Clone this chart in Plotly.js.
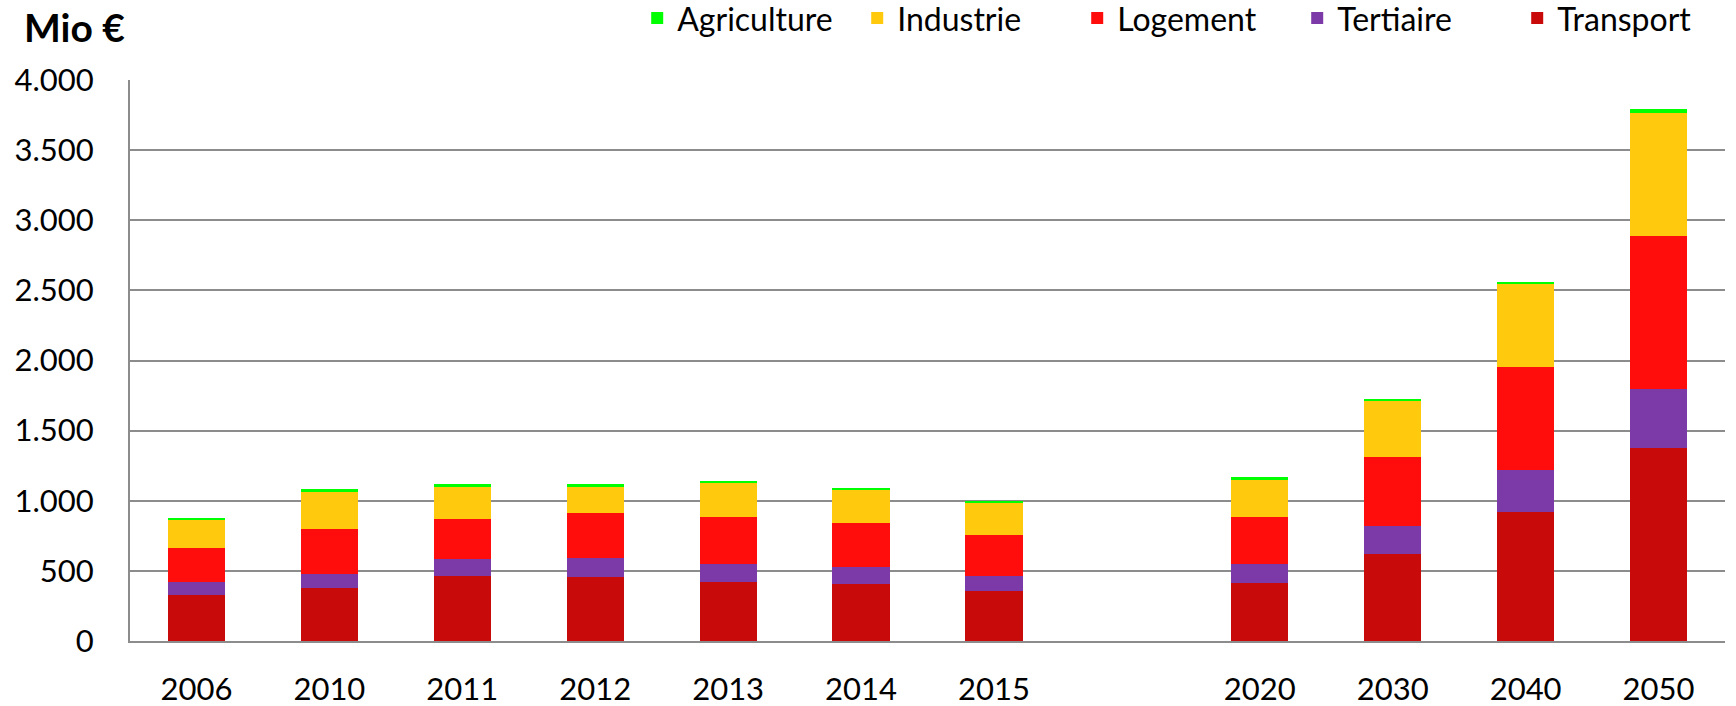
<!DOCTYPE html>
<html>
<head>
<meta charset="utf-8">
<script src="https://cdn.plot.ly/plotly-3.0.1.min.js"></script>
<style>
  html, body { margin: 0; padding: 0; background: #fff; }
  #chart { width: 1736px; height: 706px; }
</style>
</head>
<body>
<div id="chart"></div>
<script>
// categories (the blank one is the gap between 2015 and 2020)
var years = ['2006', '2010', '2011', '2012', '2013', '2014', '2015', ' ', '2020', '2030', '2040', '2050'];

// values in Mio €
var transport   = [329, 377, 465, 458, 422, 408, 356, null, 417, 620, 923, 1373];
var tertiaire   = [91, 100, 117, 131, 124, 121, 107, null, 132, 198, 293, 422];
var logement    = [243, 324, 288, 324, 339, 315, 290, null, 336, 493, 735, 1090];
var industrie   = [205, 267, 231, 191, 240, 234, 234, null, 269, 403, 591, 880];
var agriculture = [12, 14, 15, 14, 17, 16, 12, null, 14, 12, 17, 31];

var yTicks = [0, 500, 1000, 1500, 2000, 2500, 3000, 3500, 4000];

function makeTrace(name, vals, color) {
  return {
    type: 'bar',
    name: name,
    x: years,
    y: vals,
    marker: { color: color, line: { width: 0 } },
    hoverinfo: 'x+y+name',
  };
}

var data = [
  makeTrace('Transport', transport, '#c80a0a'),
  makeTrace('Tertiaire', tertiaire, '#7b3aa8'),
  makeTrace('Logement', logement, '#ff0d0d'),
  makeTrace('Industrie', industrie, '#ffc90e'),
  makeTrace('Agriculture', agriculture, '#00ff00'),
];

var font = 'Lato, "Open Sans", sans-serif';

var layout = {
  width: 1736,
  height: 706,
  barmode: 'stack',
  bargap: 0.57,
  separators: ',.',
  paper_bgcolor: '#ffffff',
  plot_bgcolor: '#ffffff',
  font: { family: font, size: 31, color: '#000' },
  margin: { l: 130, r: 11, t: 80, b: 65, autoexpand: false },
  showlegend: true,
  legend: {
    orientation: 'h',
    traceorder: 'reversed',
    x: 0.318,
    xanchor: 'left',
    y: 1.11,
    yanchor: 'middle',
    font: { family: font, size: 32, color: '#000' },
    itemwidth: 30,
    entrywidth: 175,
    bgcolor: 'rgba(0,0,0,0)',
  },
  xaxis: {
    type: 'category',
    categoryorder: 'array',
    categoryarray: years,
    showgrid: false,
    showline: true,
    linecolor: '#8c8c8c',
    linewidth: 2,
    ticks: '',
    ticklabelstandoff: 20,
    tickfont: { family: font, size: 31, color: '#000' },
    fixedrange: true,
  },
  yaxis: {
    range: [0, 4000],
    tickvals: yTicks,
    tickformat: ',d',
    showgrid: true,
    gridcolor: '#8c8c8c',
    gridwidth: 2,
    zeroline: false,
    showline: true,
    linecolor: '#8c8c8c',
    linewidth: 2,
    ticks: '',
    ticklabelstandoff: 28,
    tickfont: { family: font, size: 31, color: '#000' },
    fixedrange: true,
  },
  annotations: [{
    text: '<b>Mio €</b>',
    xref: 'paper',
    yref: 'paper',
    x: -0.068,
    xanchor: 'left',
    y: 1.095,
    yanchor: 'middle',
    showarrow: false,
    font: { family: font, size: 39, color: '#000' },
  }],
};

Plotly.newPlot('chart', data, layout, {
  displayModeBar: false,
  responsive: false,
});
</script>
</body>
</html>
